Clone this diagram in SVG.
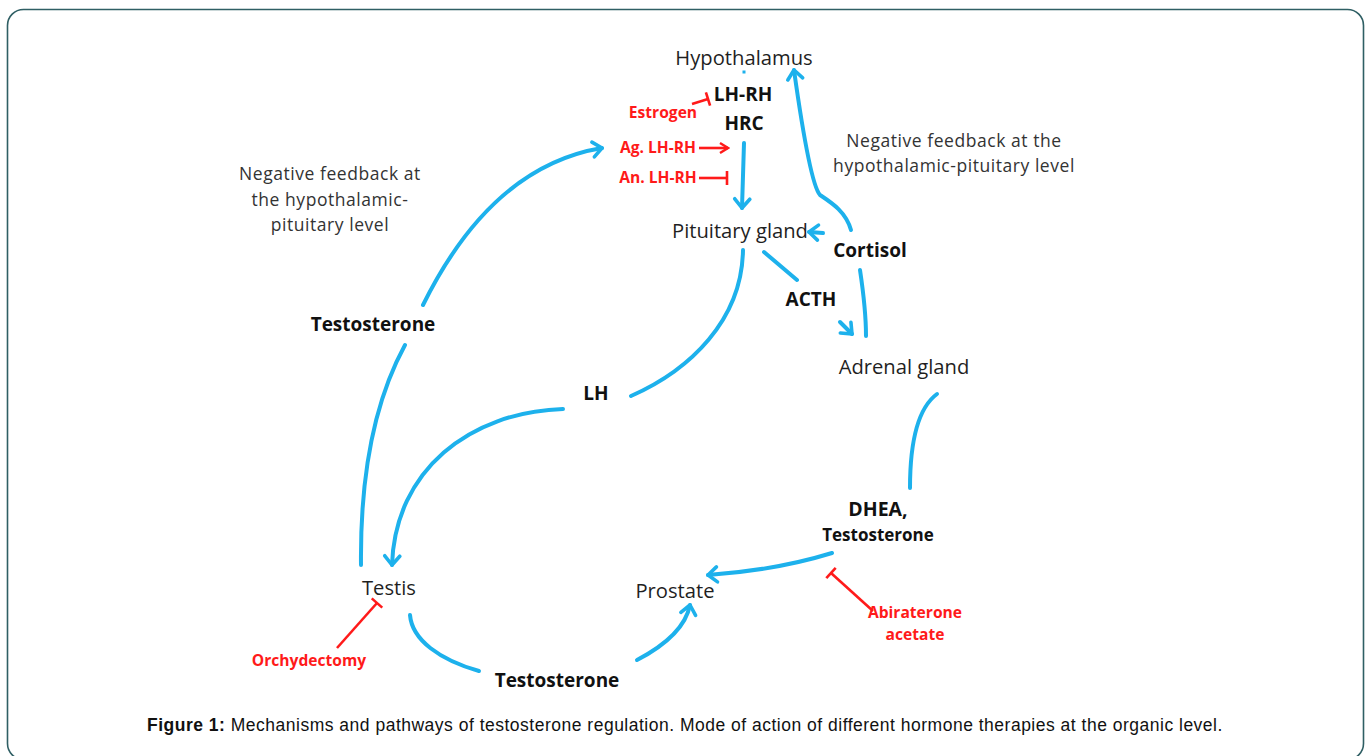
<svg xmlns="http://www.w3.org/2000/svg" width="1365" height="756" viewBox="0 0 1365 756">
<style>
.node{font-family:"Open Sans","Liberation Sans",sans-serif;font-size:20.2px;fill:#1f1f1f;text-anchor:middle}
.bold{font-family:"Open Sans","Liberation Sans",sans-serif;font-size:19px;font-weight:bold;fill:#111;text-anchor:middle}
.red{font-family:"Open Sans","Liberation Sans",sans-serif;font-size:15.6px;font-weight:bold;fill:#ff1a1a;text-anchor:middle}
.note{font-family:"Open Sans","Liberation Sans",sans-serif;font-size:17.5px;fill:#333;text-anchor:middle;letter-spacing:0.55px}
.cap{font-family:"Liberation Sans",Arial,sans-serif;font-size:17.5px;fill:#111;letter-spacing:0.5px}
.blue{fill:none;stroke:#1db1ec;stroke-width:4;stroke-linecap:round}
.rl{fill:none;stroke:#ff1a1a;stroke-width:2.6}
</style>
<defs>
<marker id="ab" viewBox="-13 -10 16 20" refX="0" refY="0" markerWidth="16" markerHeight="20" markerUnits="userSpaceOnUse" orient="auto">
<path d="M-9,-7.5 L0,0 L-9,7.5" fill="none" stroke="#1db1ec" stroke-width="3.6" stroke-linecap="round" stroke-linejoin="round"/>
</marker>
<marker id="ar" viewBox="-10 -8 12 16" refX="0" refY="0" markerWidth="12" markerHeight="16" markerUnits="userSpaceOnUse" orient="auto">
<path d="M-8,-5 L0,0 L-8,5" fill="none" stroke="#ff1a1a" stroke-width="2.4"/>
</marker>
<marker id="tee" viewBox="-2 -9 4 18" refX="0" refY="0" markerWidth="4" markerHeight="18" markerUnits="userSpaceOnUse" orient="auto">
<path d="M0,-7 L0,7" fill="none" stroke="#ff1a1a" stroke-width="2.6"/>
</marker>
</defs>
<rect x="7.5" y="9.5" width="1356" height="750" rx="16" fill="#fff" stroke="#2f5f64" stroke-width="1.6"/>

<g id="connectors">
<rect x="742.5" y="70.5" width="3" height="3" fill="#1db1ec"/>
<path class="blue" d="M744,143 L742,208" marker-end="url(#ab)"/>
<path class="blue" d="M866,336 C 866,310 863,290 860,270"/>
<path class="blue" d="M851,230 C 846,212 832,203 820,195 C 811,185 801,120 794,70" marker-end="url(#ab)"/>
<path class="blue" d="M823,233 L809,232" marker-end="url(#ab)"/>
<path class="blue" d="M764,252 L797,280"/>
<path class="blue" d="M840,322 L852,334" marker-end="url(#ab)"/>
<path class="blue" d="M743,250 C 742,320 690,370 631,396"/>
<path class="blue" d="M563,409 C 470,412 395,470 392,565" marker-end="url(#ab)"/>
<path class="blue" d="M361,565 C 360,470 375,400 405,345"/>
<path class="blue" d="M423,305 C 470,210 530,160 602,148" marker-end="url(#ab)"/>
<path class="blue" d="M937,394 C 918,408 910,440 910,488"/>
<path class="blue" d="M832,553 C 790,566 750,572 708,575" marker-end="url(#ab)"/>
<path class="blue" d="M410,615 C 412,640 440,660 479,671"/>
<path class="blue" d="M637,660 C 660,648 685,630 690,605" marker-end="url(#ab)"/>
<path class="rl" d="M692,104 L708,99" marker-end="url(#tee)"/>
<path class="rl" d="M699,148 L728,148" marker-end="url(#ar)"/>
<path class="rl" d="M699,178 L727,178" marker-end="url(#tee)"/>
<path class="rl" d="M873,611 L831,573" marker-end="url(#tee)"/>
<path class="rl" d="M337,648 L377,603" marker-end="url(#tee)"/>
</g>

<g id="hypothalamus"><text class="node" x="744" y="65">Hypothalamus</text></g>
<g id="lhrh"><text class="bold" x="743" y="101">LH-RH</text><text class="bold" x="744" y="130">HRC</text></g>
<g id="estrogen"><text class="red" x="663" y="118">Estrogen</text></g>
<g id="ag-lhrh"><text class="red" x="658" y="153">Ag. LH-RH</text></g>
<g id="an-lhrh"><text class="red" x="658" y="183">An. LH-RH</text></g>
<g id="pituitary"><text class="node" x="740" y="238">Pituitary gland</text></g>
<g id="cortisol"><text class="bold" x="870" y="257">Cortisol</text></g>
<g id="acth"><text class="bold" x="811" y="306">ACTH</text></g>
<g id="adrenal"><text class="node" x="904" y="374">Adrenal gland</text></g>
<g id="lh"><text class="bold" x="596" y="400">LH</text></g>
<g id="testosterone-left"><text class="bold" x="373" y="331">Testosterone</text></g>
<g id="feedback-left">
<text class="note" x="330" y="180">Negative feedback at</text>
<text class="note" x="330" y="206">the hypothalamic-</text>
<text class="note" x="330" y="231">pituitary  level</text>
</g>
<g id="feedback-right">
<text class="note" x="954" y="147">Negative feedback at the</text>
<text class="note" x="954" y="172">hypothalamic-pituitary  level</text>
</g>
<g id="dhea"><text class="bold" x="878" y="516" style="font-size:19.5px">DHEA,</text><text class="bold" x="878" y="541" style="font-size:17px">Testosterone</text></g>
<g id="abiraterone"><text class="red" x="915" y="618">Abiraterone</text><text class="red" x="915" y="640">acetate</text></g>
<g id="testis"><text class="node" x="389" y="595">Testis</text></g>
<g id="orchydectomy"><text class="red" x="309" y="666">Orchydectomy</text></g>
<g id="prostate"><text class="node" x="675" y="598">Prostate</text></g>
<g id="testosterone-bottom"><text class="bold" x="557" y="687">Testosterone</text></g>
<g id="caption"><text class="cap" x="147" y="731"><tspan font-weight="bold">Figure 1:</tspan> Mechanisms and pathways of testosterone regulation. Mode of action of different hormone therapies at the organic level.</text></g>
</svg>
